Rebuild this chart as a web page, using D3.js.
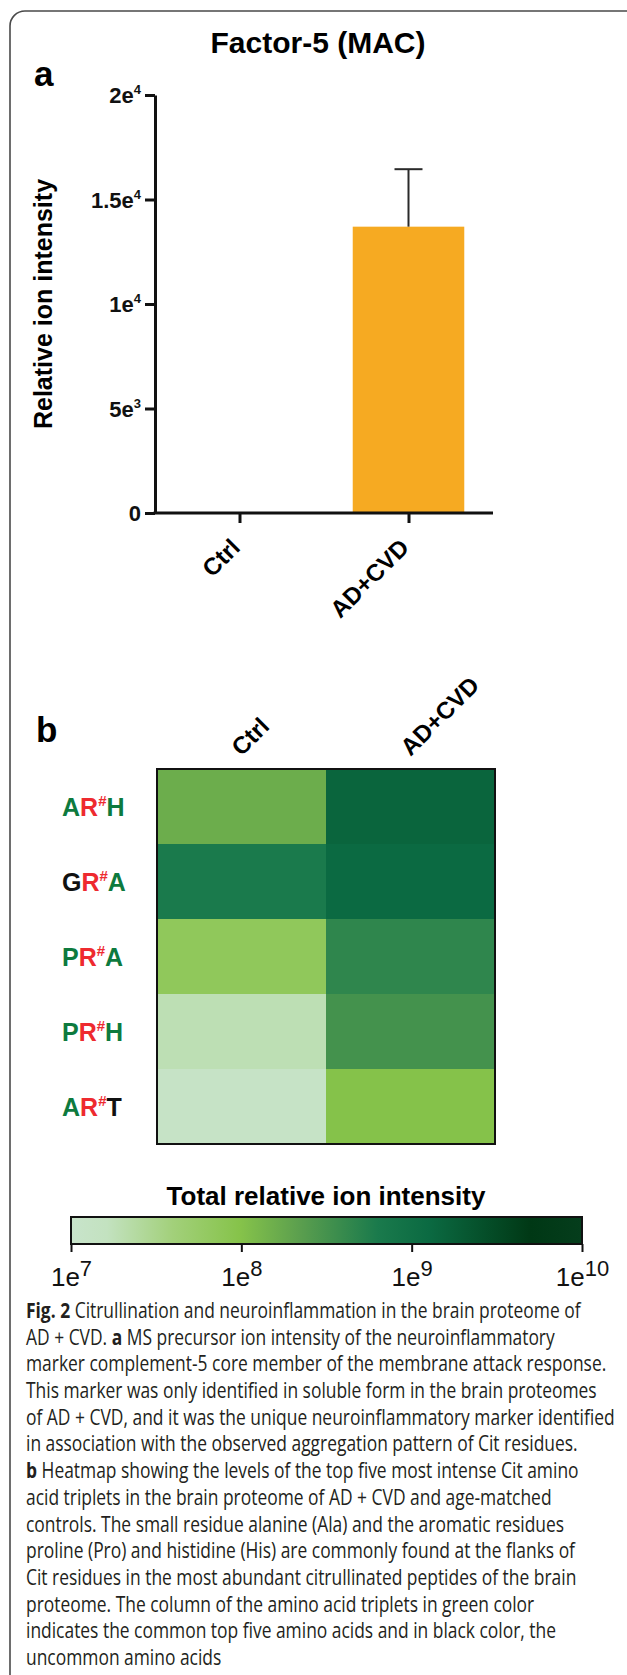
<!DOCTYPE html>
<html><head><meta charset="utf-8">
<script src="https://cdn.jsdelivr.net/npm/d3@7"></script>
<style>body{margin:0;background:#fff}svg{display:block}</style>
</head><body><svg id="c" width="627" height="1675"></svg>
<script>
// ---------- data ----------
const barCategories = ["Ctrl", "AD+CVD"];
const barValues = [0, 13700];
const barErrors = [0, 2750];
const yTickValues = [0, 5000, 10000, 15000, 20000];
const yTickMantissa = ["0", "5e", "1e", "1.5e", "2e"];
const yTickExponent = ["", "3", "4", "4", "4"];

const heatColumns = ["Ctrl", "AD+CVD"];
const heatRows = ["AR#H", "GR#A", "PR#A", "PR#H", "AR#T"];
const leftResidue = ["A", "G", "P", "P", "A"];
const rightResidue = ["H", "A", "A", "H", "T"];
const leftCommon = [true, false, true, true, true];
const rightCommon = [true, true, true, true, false];
const ctrlIntensity = [1.6e8, 6.3e8, 7.1e7, 1.9e7, 1.25e7];
const adcvdIntensity = [1.45e9, 1.25e9, 4.5e8, 3.2e8, 1.0e8];

const colorbarTicks = [1e7, 1e8, 1e9, 1e10];
const colorbarExponents = ["7", "8", "9", "10"];
const gradientStops = [0, 0.07, 0.2, 0.33, 0.45, 0.6, 0.7, 0.9, 1];
const gradientColors = ["#c8e4cb", "#c3e2c0", "#a2d07a", "#86c34a", "#5a9e4e", "#1a7a4c", "#0b6a42", "#003815", "#053d1c"];

const captionLines = [
  [["b", "Fig. 2"], ["n", " Citrullination and neuroinflammation in the brain proteome of"]],
  [["n", "AD + CVD. "], ["b", "a"], ["n", " MS precursor ion intensity of the neuroinflammatory"]],
  [["n", "marker complement-5 core member of the membrane attack response."]],
  [["n", "This marker was only identified in soluble form in the brain proteomes"]],
  [["n", "of AD + CVD, and it was the unique neuroinflammatory marker identified"]],
  [["n", "in association with the observed aggregation pattern of Cit residues."]],
  [["b", "b"], ["n", " Heatmap showing the levels of the top five most intense Cit amino"]],
  [["n", "acid triplets in the brain proteome of AD + CVD and age-matched"]],
  [["n", "controls. The small residue alanine (Ala) and the aromatic residues"]],
  [["n", "proline (Pro) and histidine (His) are commonly found at the flanks of"]],
  [["n", "Cit residues in the most abundant citrullinated peptides of the brain"]],
  [["n", "proteome. The column of the amino acid triplets in green color"]],
  [["n", "indicates the common top five amino acids and in black color, the"]],
  [["n", "uncommon amino acids"]]
];

// ---------- drawing ----------
const svg = d3.select("#c");
const FONT = "'Liberation Sans', Arial, Helvetica, sans-serif";
const GREEN = "#0d7a3e", RED = "#ee2a2f";

// frame
svg.append("path")
  .attr("d", "M10,1690 V26 A15,15 0 0 1 25,11 H640")
  .attr("fill", "none").attr("stroke", "#4a4a4a").attr("stroke-width", 1.6);

// ===== panel a =====
svg.append("text").attr("x", 318).attr("y", 53).attr("text-anchor", "middle")
  .attr("font-family", FONT).attr("font-weight", "bold").attr("font-size", 30)
  .text("Factor-5 (MAC)");
svg.append("text").attr("x", 34).attr("y", 86)
  .attr("font-family", FONT).attr("font-weight", "bold").attr("font-size", 35).text("a");

const y = d3.scaleLinear().domain([0, 20000]).range([513, 95]);
const x = d3.scalePoint().domain(barCategories).range([155, 493]).padding(0.5);
const barW = x.step() * 0.66;

// bars
svg.append("g").selectAll("rect").data(barCategories).join("rect")
  .attr("x", d => x(d) - barW / 2)
  .attr("y", (d, i) => y(barValues[i]))
  .attr("width", barW)
  .attr("height", (d, i) => y(0) - y(barValues[i]))
  .attr("fill", "#f6aa22");

// error bars
const eg = svg.append("g").attr("stroke", "#2a2a2a").attr("stroke-width", 2);
barCategories.forEach((d, i) => {
  if (barValues[i] <= 0) return;
  eg.append("line").attr("x1", x(d)).attr("x2", x(d))
    .attr("y1", y(barValues[i])).attr("y2", y(barValues[i] + barErrors[i]));
  eg.append("line").attr("x1", x(d) - 14).attr("x2", x(d) + 14)
    .attr("y1", y(barValues[i] + barErrors[i])).attr("y2", y(barValues[i] + barErrors[i]));
});

// y axis
const yAxis = svg.append("g").attr("transform", "translate(155,0)")
  .call(d3.axisLeft(y).tickValues(yTickValues).tickSize(10).tickSizeOuter(0).tickFormat(() => ""));
yAxis.selectAll("path,line").attr("stroke", "#111").attr("stroke-width", 3);
yAxis.selectAll(".tick").each(function (d) {
  const i = yTickValues.indexOf(d);
  const t = d3.select(this).append("text")
    .attr("x", -14).attr("dy", "0.36em").attr("text-anchor", "end")
    .attr("fill", "#111").attr("font-family", FONT).attr("font-weight", "bold").attr("font-size", 22);
  t.append("tspan").text(yTickMantissa[i]);
  if (yTickExponent[i]) t.append("tspan").attr("font-size", 13).attr("dy", -9).text(yTickExponent[i]);
});
svg.append("text").attr("transform", "translate(52,304) rotate(-90)").attr("text-anchor", "middle")
  .attr("font-family", FONT).attr("font-weight", "bold").attr("font-size", 25)
  .text("Relative ion intensity");

// x axis
const xAxis = svg.append("g").attr("transform", "translate(0,513)")
  .call(d3.axisBottom(x).tickSize(10).tickSizeOuter(0).tickFormat(() => ""));
xAxis.select("path").attr("d", "M153.5,0H493");
xAxis.selectAll("path,line").attr("stroke", "#111").attr("stroke-width", 3);
svg.append("g").selectAll("text").data(barCategories).join("text")
  .attr("transform", d => `translate(${x(d) + 2},549) rotate(-45)`)
  .attr("text-anchor", "end")
  .attr("font-family", FONT).attr("font-weight", "bold").attr("font-size", 24)
  .text(d => d);

// ===== panel b =====
svg.append("text").attr("x", 36).attr("y", 742)
  .attr("font-family", FONT).attr("font-weight", "bold").attr("font-size", 35).text("b");

const hx = d3.scaleBand().domain(heatColumns).range([157, 495]);
const hy = d3.scaleBand().domain(heatRows).range([769, 1144]);
const tScale = d3.scaleLog().domain([1e7, 1e10]).range([0, 1]);
const colorLin = d3.scaleLinear().domain(gradientStops).range(gradientColors).interpolate(d3.interpolateRgb);
const cellColor = v => colorLin(tScale(v));

const cells = [];
heatRows.forEach((r, i) => {
  cells.push({ col: "Ctrl", row: r, v: ctrlIntensity[i] });
  cells.push({ col: "AD+CVD", row: r, v: adcvdIntensity[i] });
});
svg.append("g").selectAll("rect").data(cells).join("rect")
  .attr("x", d => hx(d.col)).attr("y", d => hy(d.row))
  .attr("width", hx.bandwidth() + 0.5).attr("height", hy.bandwidth() + 0.5)
  .attr("fill", d => cellColor(d.v));
svg.append("rect").attr("x", 157).attr("y", 769).attr("width", 338).attr("height", 375)
  .attr("fill", "none").attr("stroke", "#111").attr("stroke-width", 2);

// column labels
svg.append("g").selectAll("text").data(heatColumns).join("text")
  .attr("transform", d => `translate(${hx(d) + hx.bandwidth() / 2},757) rotate(-45)`)
  .attr("font-family", FONT).attr("font-weight", "bold").attr("font-size", 24)
  .text(d => d);

// row labels
heatRows.forEach((r, i) => {
  const t = svg.append("text").attr("x", 62).attr("y", hy(r) + hy.bandwidth() / 2 + 9)
    .attr("font-family", FONT).attr("font-weight", "bold").attr("font-size", 25);
  t.append("tspan").attr("fill", leftCommon[i] ? GREEN : "#111").text(leftResidue[i]);
  t.append("tspan").attr("fill", RED).text("R");
  t.append("tspan").attr("fill", RED).attr("font-size", 15).attr("dy", -10).text("#");
  t.append("tspan").attr("fill", rightCommon[i] ? GREEN : "#111").attr("dy", 10).text(rightResidue[i]);
});

// colorbar
const cb = d3.scaleLog().domain([1e7, 1e10]).range([71, 582]);
const defs = svg.append("defs");
const lg = defs.append("linearGradient").attr("id", "cbg").attr("x1", "0%").attr("x2", "100%");
gradientStops.forEach((s, i) => lg.append("stop").attr("offset", s).attr("stop-color", gradientColors[i]));
svg.append("text").attr("x", 326).attr("y", 1205).attr("text-anchor", "middle")
  .attr("font-family", FONT).attr("font-weight", "bold").attr("font-size", 26)
  .text("Total relative ion intensity");
svg.append("rect").attr("x", 71).attr("y", 1217).attr("width", 511).attr("height", 27)
  .attr("fill", "url(#cbg)").attr("stroke", "#111").attr("stroke-width", 2);
const cbAxis = svg.append("g").attr("transform", "translate(0,1244)")
  .call(d3.axisBottom(cb).tickValues(colorbarTicks).tickSize(8).tickSizeOuter(0).tickFormat(() => ""));
cbAxis.select("path").remove();
cbAxis.selectAll("line").attr("stroke", "#111").attr("stroke-width", 2);
cbAxis.selectAll(".tick").each(function (d) {
  const i = colorbarTicks.indexOf(d);
  const t = d3.select(this).append("text").attr("y", 42).attr("text-anchor", "middle")
    .attr("fill", "#111").attr("font-family", FONT).attr("font-size", 26);
  t.append("tspan").text("1e");
  t.append("tspan").attr("font-size", 22).attr("dy", -10).text(colorbarExponents[i]);
});

// caption
const cap = svg.append("g").attr("font-family", "'Open Sans', 'Noto Sans', sans-serif")
  .attr("font-size", 21).attr("fill", "#231f20");
const lineNodes = [];
captionLines.forEach((parts, i) => {
  const t = cap.append("text").attr("x", 0).attr("y", 1318 + i * 26.7);
  parts.forEach(p => t.append("tspan").attr("font-weight", p[0] === "b" ? "bold" : "normal").text(p[1]));
  lineNodes.push(t.node());
});
const w5 = lineNodes[4].getComputedTextLength();
const s = 589 / w5;
cap.attr("transform", `translate(26,0) scale(${s},1)`);
</script></body></html>
